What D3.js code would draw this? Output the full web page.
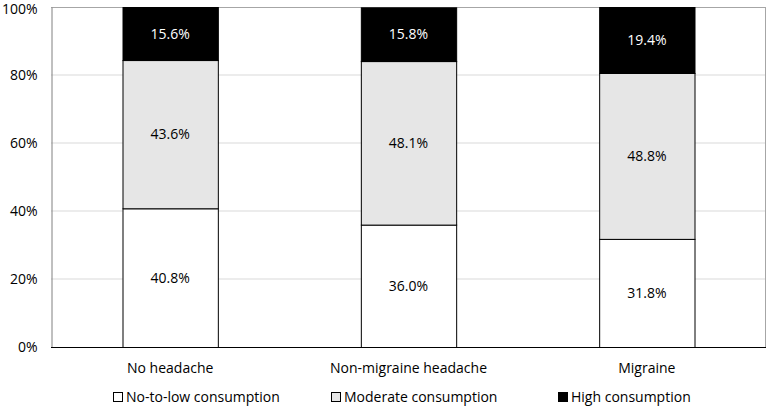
<!DOCTYPE html>
<html><head><meta charset="utf-8">
<script src="https://cdn.jsdelivr.net/npm/d3@7"></script>
<style>body{margin:0;background:#fff;} text{font-family:"Open Sans","Noto Sans",sans-serif;}</style>
</head><body><svg id="c" width="767" height="407"></svg>
<script>
const categories = ["No headache", "Non-migraine headache", "Migraine"];
const seriesNames = ["No-to-low consumption", "Moderate consumption", "High consumption"];
const lowValues = [40.8, 36.0, 31.8];
const moderateValues = [43.6, 48.1, 48.8];
const highValues = [15.6, 15.8, 19.4];
const yTicks = [0, 20, 40, 60, 80, 100];
const fills = ["#ffffff", "#e6e6e6", "#000000"];
const textFills = ["#000", "#000", "#fff"];

const series = [lowValues, moderateValues, highValues];
const svg = d3.select("#c");
const m = {l: 51, r: 766, t: 7, b: 347};
const x = d3.scaleBand().domain(categories).range([m.l, m.r]).paddingInner(0.6).paddingOuter(0.3);
const y = d3.scaleLinear().domain([0, 100]).range([m.b, m.t]);

// gridlines
svg.append("g").selectAll("line").data(yTicks.filter(d => d > 0 && d < 100)).join("line")
  .attr("x1", m.l).attr("x2", m.r).attr("y1", d => y(d)).attr("y2", d => y(d))
  .attr("stroke", "#d9d9d9").attr("stroke-width", 1);
// border
svg.append("line").attr("x1", m.l).attr("x2", m.r).attr("y1", m.t + 0.5).attr("y2", m.t + 0.5).attr("stroke", "#a6a6a6");
svg.append("line").attr("x1", m.r - 0.5).attr("x2", m.r - 0.5).attr("y1", m.t).attr("y2", m.b).attr("stroke", "#a6a6a6");

// bars
categories.forEach((c, i) => {
  let cum = 0;
  series.forEach((s, k) => {
    const v = s[i];
    const y0 = y(cum), y1 = y(cum + v);
    svg.append("rect").attr("x", x(c) + 0.5).attr("y", y1 + 0.5)
      .attr("width", x.bandwidth()).attr("height", y0 - y1)
      .attr("fill", fills[k]).attr("stroke", "#000").attr("stroke-width", 1);
    svg.append("text").attr("x", x(c) + x.bandwidth() / 2).attr("y", (y0 + y1) / 2 + 5)
      .attr("text-anchor", "middle").attr("font-size", 14).attr("fill", textFills[k])
      .text(v.toFixed(1) + "%");
    cum += v;
  });
});

// y axis
const ya = svg.append("g").attr("transform", `translate(${m.l + 0.5},0)`)
  .call(d3.axisLeft(y).tickValues(yTicks).tickFormat(d => d + "%").tickSize(0).tickPadding(14));
ya.select(".domain").attr("stroke", "#808080");
ya.selectAll("text").attr("font-size", 14).attr("fill", "#000").style("font-family", '"Open Sans","Noto Sans",sans-serif');
ya.selectAll(".tick").filter(d => d === 100).select("text").attr("dy", "0.45em");

// x axis
const xa = svg.append("g").attr("transform", `translate(0,${m.b + 0.5})`)
  .call(d3.axisBottom(x).tickSize(0).tickPadding(16));
xa.select(".domain").attr("stroke", "#000").attr("d", `M${m.l},0H${m.r}`);
xa.selectAll("text").attr("font-size", 14).attr("fill", "#000").style("font-family", '"Open Sans","Noto Sans",sans-serif');

// legend
const legendX = [113, 331, 558];
const lg = svg.append("g");
seriesNames.forEach((n, k) => {
  lg.append("rect").attr("x", legendX[k] + 0.5).attr("y", 392.5).attr("width", 9).attr("height", 9)
    .attr("fill", fills[k]).attr("stroke", "#000");
  lg.append("text").attr("x", legendX[k] + 13).attr("y", 402).attr("font-size", 14).attr("fill", "#000").text(n);
});
</script></body></html>
